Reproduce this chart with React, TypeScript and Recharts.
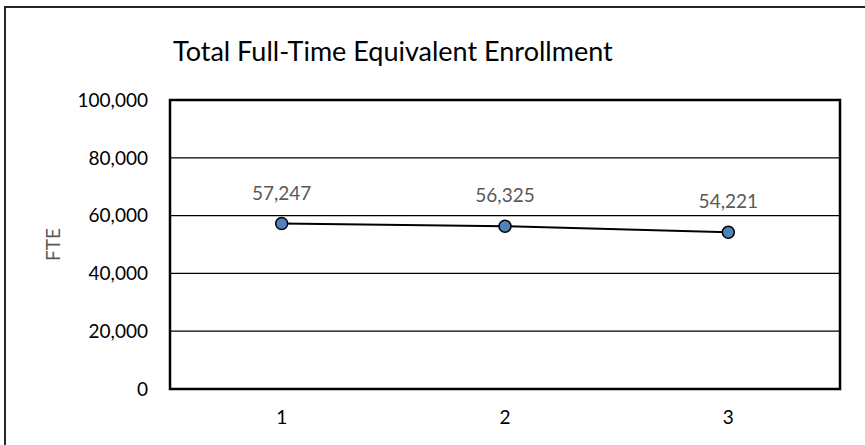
import { LineChart, Line, XAxis, YAxis, CartesianGrid, LabelList, ReferenceArea } from 'recharts'

const periods = [1, 2, 3]
const fteValues = [57247, 56325, 54221]
const yTicks = [0, 20000, 40000, 60000, 80000, 100000]

const data = periods.map((p, i) => ({ period: p, fte: fteValues[i] }))

const fmt = (v: number) => Number(v).toLocaleString('en-US')
const FONT = 'Lato, "Open Sans", sans-serif'

export default function App() {
  return (
    <div
      style={{
        position: 'absolute', left: 0, top: 0, width: 865, height: 445,
        overflow: 'hidden', background: '#fff', fontFamily: FONT,
      }}
    >
      {/* outer chart frame, only top/left edges fall inside the picture */}
      <div
        style={{
          position: 'absolute', left: 4, top: 6, width: 900, height: 500,
          border: '2px solid #262626', boxSizing: 'border-box',
        }}
      />
      <div
        style={{
          position: 'absolute', left: 173, top: 37, fontSize: 27, lineHeight: '27px',
          color: '#000', whiteSpace: 'nowrap',
        }}
      >
        Total Full-Time Equivalent Enrollment
      </div>
      <LineChart
        width={865}
        height={445}
        data={data}
        margin={{ top: 100, right: 25, bottom: 0, left: 20 }}
        style={{ position: 'absolute', left: 0, top: 0 }}
      >
        <CartesianGrid horizontal vertical={false} stroke="#000" strokeWidth={1.3} />
        <XAxis
          dataKey="period"
          type="number"
          domain={[0.5, 3.5]}
          ticks={periods}
          height={56}
          axisLine={false}
          tickLine={false}
          tickSize={0}
          tickMargin={22}
          tick={{ fontSize: 19, fill: '#000', fontFamily: FONT }}
        />
        <YAxis
          width={150}
          domain={[0, 100000]}
          ticks={yTicks}
          tickFormatter={fmt}
          axisLine={false}
          tickLine={false}
          tickSize={0}
          tickMargin={22}
          tick={{ fontSize: 19, fill: '#000', fontFamily: FONT }}
          label={{
            value: 'FTE', angle: -90, position: 'insideLeft', offset: 33,
            style: { fontSize: 19, fill: '#595959', fontFamily: FONT, textAnchor: 'middle' },
          }}
        />
        {/* plot-area border */}
        <ReferenceArea x1={0.5} x2={3.5} y1={0} y2={100000} fill="none" stroke="#000" strokeWidth={2.5} />
        <Line
          dataKey="fte"
          stroke="#000"
          strokeWidth={2}
          isAnimationActive={false}
          dot={{ r: 6, fill: '#4f81bd', stroke: '#000', strokeWidth: 1.5 }}
        >
          <LabelList
            dataKey="fte"
            position="top"
            offset={24}
            formatter={(v: any) => fmt(v)}
            style={{ fontSize: 19, fill: '#595959', fontFamily: FONT }}
          />
        </Line>
      </LineChart>
    </div>
  )
}
